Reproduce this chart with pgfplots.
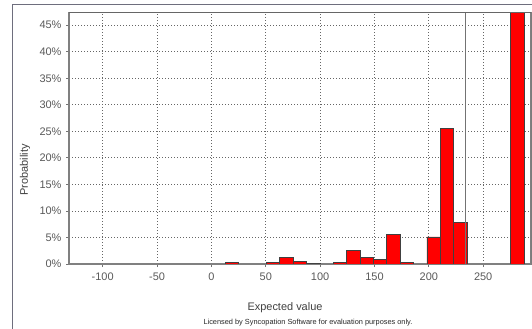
\documentclass[border=0pt]{standalone}
\usepackage{fontspec}
\setmainfont{Liberation Sans}
\usepackage{pgfplots}
\pgfplotsset{compat=1.18}
\begin{document}
\begin{tikzpicture}
\path[use as bounding box] (0bp,0bp) rectangle (532bp,329bp);
\draw[color={rgb,255:red,110;green,110;blue,125},line width=0.9bp] (12bp,0bp) -- (12bp,324.3bp) -- (532bp,324.3bp);
\begin{axis}[
  at={(69bp,65bp)}, anchor=south west,
  scale only axis, width=462bp, height=251.5bp,
  xmin=-131, xmax=294, ymin=0, ymax=47.4,
  xtick={-100,-50,0,50,100,150,200,250},
  xticklabels={-100,-50,0,50,100,150,200,250},
  ytick={0,5,10,15,20,25,30,35,40,45},
  yticklabels={0\%,5\%,10\%,15\%,20\%,25\%,30\%,35\%,40\%,45\%},
  tick align=outside, major tick length=3bp,
  tick style={color=black!55, line width=0.8bp},
  xtick pos=bottom, ytick pos=left,
  grid=major,
  grid style={dash pattern=on 1bp off 2bp, color=black!60, line width=0.8bp},
  axis line style={color=black!50, line width=1.2bp},
  ticklabel style={font=\fontsize{11}{13}\selectfont, color=black!65},
  yticklabel style={xshift=-1bp},
  xticklabel style={yshift=-2bp},
  clip=true,
]
\addplot[ybar, bar width=12.3, bar shift=0pt, fill=red, draw=black!75, line width=0.7bp]
coordinates {
(18.95,0.3) (56.75,0.3) (69.05,1.2) (81.35,0.5) (93.65,0.1)
(118.25,0.3) (130.55,2.5) (142.85,1.3) (155.15,0.8) (167.45,5.5) (179.75,0.3)
(204.35,5.1) (216.65,25.5) (228.95,7.8) (281.3,50)
};
\addplot[color=black!55, line width=1bp] coordinates {(233.7,0) (233.7,47.4)};
\draw[color=black!60, line width=1bp] (rel axis cs:0,1) -- (rel axis cs:1,1) -- (rel axis cs:1,0);
\end{axis}
\node[rotate=90, font=\fontsize{11}{13}\selectfont, color=black!75] at (25bp,159bp) {Probability};
\node[font=\fontsize{11}{13}\selectfont, color=black!75] at (285bp,21bp) {Expected value};
\node[font=\fontsize{7.4}{8}\selectfont, color=black!85] at (308bp,6.7bp) {Licensed by Syncopation Software for evaluation purposes only.};
\end{tikzpicture}
\end{document}
